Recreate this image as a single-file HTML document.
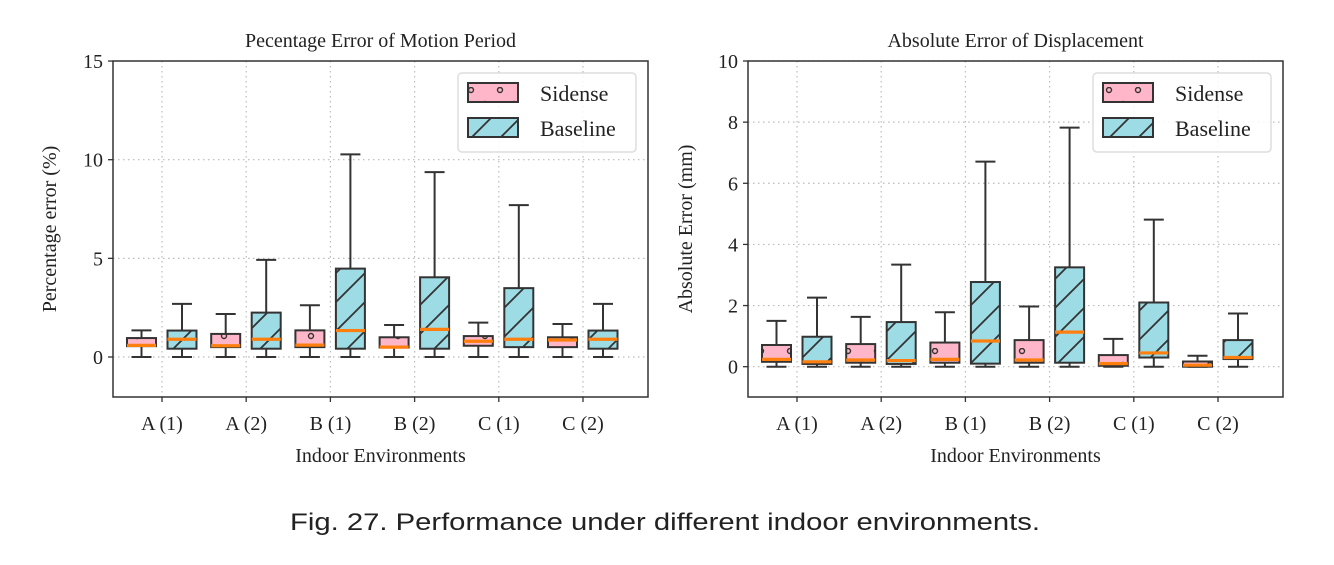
<!DOCTYPE html>
<html><head><meta charset="utf-8"><style>
body{margin:0;background:#fff;width:1334px;height:560px;overflow:hidden}
svg text{font-family:"Liberation Serif",serif;fill:#222}
</style></head><body>
<svg id="chart" width="1334" height="560" xmlns="http://www.w3.org/2000/svg">
<defs>
<pattern id="hatchB" patternUnits="userSpaceOnUse" width="29" height="29">
<path d="M-3,32 L32,-3 M-3,3 L3,-3 M26,32 L32,26" stroke="#333" stroke-width="1.8"/>
</pattern>
<pattern id="hatchS" patternUnits="userSpaceOnUse" width="29" height="29">
<circle cx="7" cy="3" r="2.5" fill="none" stroke="#333" stroke-width="1.4"/>
<circle cx="21" cy="17" r="2.5" fill="none" stroke="#333" stroke-width="1.4"/>
</pattern>
</defs>
<text x="290" y="530" textLength="750" lengthAdjust="spacingAndGlyphs" font-size="24" style="font-family:'Liberation Sans',sans-serif">Fig. 27.  Performance under different indoor environments.</text>
</svg>
<script>
const categories=["A (1)","A (2)","B (1)","B (2)","C (1)","C (2)"];
// left: [low, q1, median, q3, high]
const leftSidense=[[0,0.55,0.59,0.96,1.35],[0,0.5,0.57,1.17,2.18],[0,0.5,0.6,1.35,2.62],[0,0.48,0.5,1.0,1.62],[0,0.57,0.8,1.06,1.74],[0,0.5,0.86,1.0,1.67]];
const leftBaseline=[[0,0.42,0.9,1.34,2.69],[0,0.42,0.9,2.25,4.92],[0,0.42,1.34,4.48,10.27],[0,0.42,1.4,4.04,9.37],[0,0.5,0.9,3.49,7.7],[0,0.42,0.9,1.34,2.69]];
const rightSidense=[[0,0.16,0.24,0.71,1.5],[0,0.13,0.22,0.74,1.63],[0,0.13,0.24,0.79,1.78],[0,0.13,0.22,0.87,1.97],[0,0.03,0.1,0.38,0.91],[0,0,0.05,0.17,0.36]];
const rightBaseline=[[0,0.09,0.16,0.98,2.26],[0,0.09,0.2,1.46,3.34],[0,0.1,0.84,2.77,6.71],[0,0.13,1.13,3.25,7.82],[0,0.3,0.45,2.1,4.81],[0,0.25,0.3,0.87,1.74]];
const leftTicks=[0,5,10,15];
const rightTicks=[0,2,4,6,8,10];
const svg=document.getElementById('chart');
const NS='http://www.w3.org/2000/svg';
function mk(tag,attrs,parent){const e=document.createElementNS(NS,tag);for(const k in attrs)e.setAttribute(k,attrs[k]);(parent||svg).appendChild(e);return e;}
function panel(o){
 const g=mk('g',{});
 
 
 const x=i=>o.x0+o.dx*i;
 const y=v=>o.y0-(v)*o.py;
 categories.forEach((c,i)=>{mk('line',{x1:x(i),x2:x(i),y1:o.top,y2:o.bot,stroke:'#bbb','stroke-width':1.2,'stroke-dasharray':'1.5,3.5'},g);});
 o.ticks.forEach(t=>{mk('line',{x1:o.left,x2:o.right,y1:y(t),y2:y(t),stroke:'#bbb','stroke-width':1.2,'stroke-dasharray':'1.5,3.5'},g);});
 function box(d,cx,fill,pat,nm){
  const bg=mk('g',{},g);
  
  
  const w=29,h=w/2,cap=10;
  mk('line',{x1:cx,x2:cx,y1:y(d[3]),y2:y(d[4]),stroke:'#333','stroke-width':2},bg);
  mk('line',{x1:cx,x2:cx,y1:y(d[1]),y2:y(d[0]),stroke:'#333','stroke-width':2},bg);
  mk('line',{x1:cx-cap,x2:cx+cap,y1:y(d[4]),y2:y(d[4]),stroke:'#333','stroke-width':2},bg);
  mk('line',{x1:cx-cap,x2:cx+cap,y1:y(d[0]),y2:y(d[0]),stroke:'#333','stroke-width':2},bg);
  const by=y(d[3]),bh=Math.max(y(d[1])-y(d[3]),1);
  mk('rect',{x:cx-h,y:by,width:w,height:bh,fill:fill},bg);
  mk('rect',{x:cx-h,y:by,width:w,height:bh,fill:'url(#'+pat+')'},bg);
  mk('rect',{x:cx-h,y:by,width:w,height:bh,fill:'none',stroke:'#333','stroke-width':2},bg);
  mk('line',{x1:cx-h,x2:cx+h,y1:y(d[2]),y2:y(d[2]),stroke:'#ff7f0e','stroke-width':3.2},bg);
 }
 categories.forEach((c,i)=>{
  box(o.s[i],x(i)-20.5,'#ffb6c8','hatchS','sidense-box-'+i);
  box(o.b[i],x(i)+20,'#9ddbe5','hatchB','baseline-box-'+i);
 });
 mk('rect',{x:o.left,y:o.top,width:o.right-o.left,height:o.bot-o.top,fill:'none',stroke:'#333','stroke-width':1.5},g);
 o.ticks.forEach(t=>{
  mk('line',{x1:o.left-5,x2:o.left,y1:y(t),y2:y(t),stroke:'#333','stroke-width':1.3},g);
  const tx=mk('text',{x:o.left-10,y:y(t)+7,'text-anchor':'end','font-size':20},g);tx.textContent=t;
  
  
 });
 categories.forEach((c,i)=>{
  mk('line',{x1:x(i),x2:x(i),y1:o.bot,y2:o.bot+5,stroke:'#333','stroke-width':1.3},g);
  const tx=mk('text',{x:x(i),y:o.bot+33,'text-anchor':'middle','font-size':20},g);tx.textContent=c;
  
  
 });
 const t=mk('text',{x:(o.left+o.right)/2,y:47,'text-anchor':'middle','font-size':20},g);t.textContent=o.title;
 
 
 const xl=mk('text',{x:(o.left+o.right)/2,y:462,'text-anchor':'middle','font-size':20},g);xl.textContent='Indoor Environments';
 
 
 const yl=mk('text',{x:0,y:0,'text-anchor':'middle','font-size':20,transform:'translate('+o.ylx+',229) rotate(-90)'},g);yl.textContent=o.ylabel;
 
 
 const L=o.right-190;
 const lg=mk('g',{},g);
 
 
 mk('rect',{x:L,y:73,width:178,height:79,rx:4,fill:'#fff','fill-opacity':0.85,stroke:'#ddd','stroke-width':1.5},lg);
 [['Sidense','#ffb6c8','hatchS',83],['Baseline','#9ddbe5','hatchB',118]].forEach(e=>{
  const eg=mk('g',{},lg);
  
  
  mk('rect',{x:L+10,y:e[3],width:50,height:19,fill:e[1]},eg);
  mk('rect',{x:L+10,y:e[3],width:50,height:19,fill:'url(#'+e[2]+')'},eg);
  mk('rect',{x:L+10,y:e[3],width:50,height:19,fill:'none',stroke:'#333','stroke-width':2},eg);
  const tt=mk('text',{x:L+82,y:e[3]+18,'font-size':22},eg);tt.textContent=e[0];
 });
}
panel({name:'left-chart',left:113,right:648,top:61,bot:397,x0:162,dx:84.2,y0:357,py:19.73,ticks:leftTicks,s:leftSidense,b:leftBaseline,title:'Pecentage Error of Motion Period',ylabel:'Percentage error (%)',ylx:56});
panel({name:'right-chart',left:748,right:1283,top:61,bot:397,x0:797,dx:84.2,y0:366.7,py:30.57,ticks:rightTicks,s:rightSidense,b:rightBaseline,title:'Absolute Error of Displacement',ylabel:'Absolute Error (mm)',ylx:692});
</script>
</body></html>
